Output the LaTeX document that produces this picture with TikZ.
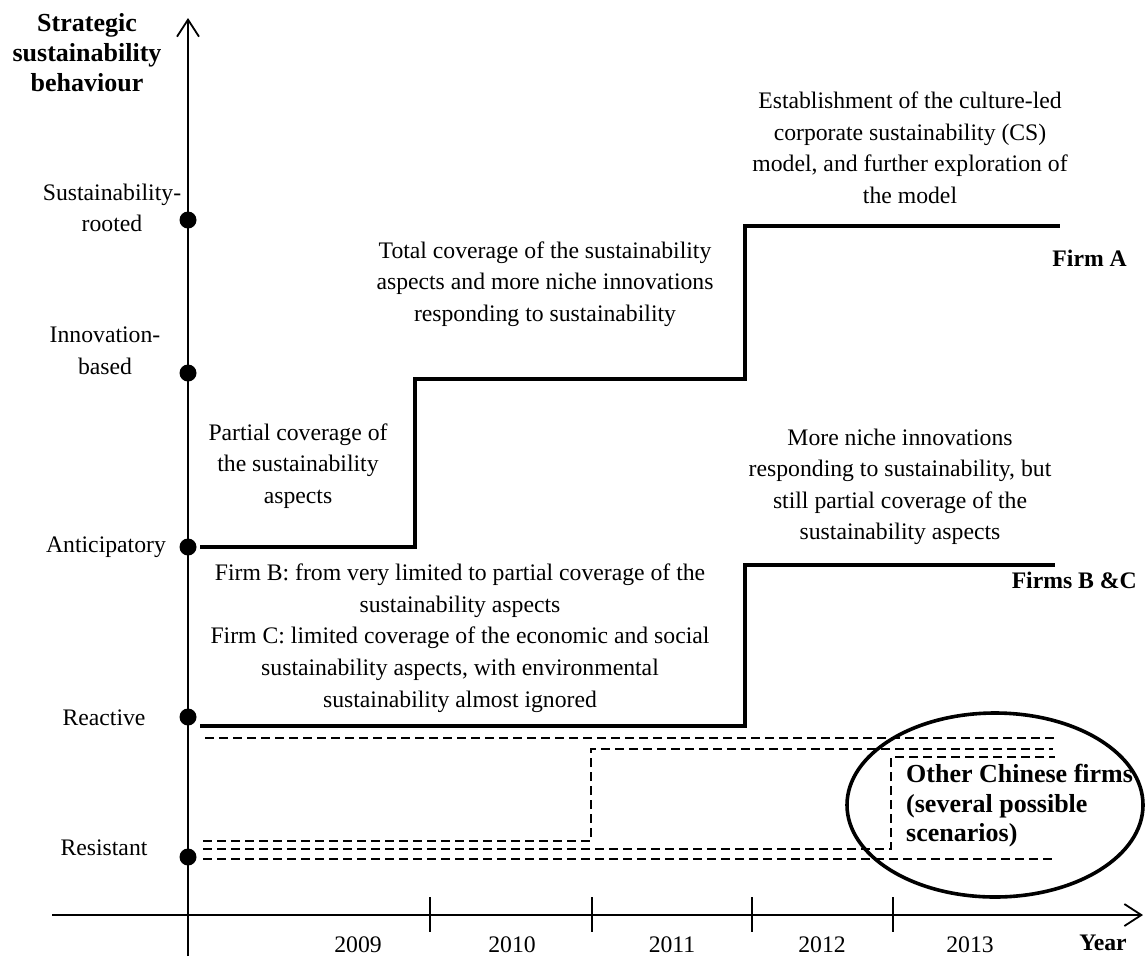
\documentclass[tikz,border=0pt]{standalone}
\usepackage{fontspec}
\setmainfont{Liberation Serif}
\usetikzlibrary{arrows.meta}
\begin{document}
\begin{tikzpicture}[x=1pt,y=-1pt,
  txt/.style={font=\fontsize{23.7}{31.5}\selectfont, align=center, inner sep=0pt},
  btxt/.style={font=\fontsize{23.7}{31}\selectfont\bfseries, align=center, inner sep=0pt},
  bigbtxt/.style={font=\fontsize{26}{30}\selectfont\bfseries, align=center, inner sep=0pt},
  axisline/.style={line width=1.8pt, -{Straight Barb[length=17pt,width=22pt]}},
  tickline/.style={line width=1.6pt},
  dot/.style={circle, fill=black, inner sep=0pt, minimum size=17pt},
  pathline/.style={line width=4pt},
  scen/.style={line width=2pt, dash pattern=on 9pt off 5pt},
  ring/.style={line width=3.6pt}
]
\useasboundingbox (0,0) rectangle (1147,956);

% axes
\coordinate (ybot) at (188,956);
\coordinate (ytop) at (188,18);
\coordinate (xleft) at (52,915);
\coordinate (xright) at (1143,915);
\draw[axisline] (ybot) -- (ytop);
\draw[axisline] (xleft) -- (xright);

% year ticks
\foreach \tx/\tn in {430/t1,592/t2,752/t3,893/t4}{
  \coordinate (\tn a) at (\tx,897);
  \coordinate (\tn b) at (\tx,932);
  \draw[tickline] (\tn a) -- (\tn b);
}

% year labels
\node[txt] (y2009) at (358,945) {2009};
\node[txt] (y2010) at (512,945) {2010};
\node[txt] (y2011) at (672,945) {2011};
\node[txt] (y2012) at (822,945) {2012};
\node[txt] (y2013) at (970,945) {2013};
\node[btxt] (yearlbl) at (1103,943) {Year};

% vertical axis title
\node[bigbtxt] (ytitle) at (87,53) {Strategic\\sustainability\\behaviour};

% behaviour levels
\node[dot] (rooted) at (188,220) {};
\node[dot] (innov) at (188,373) {};
\node[dot] (antic) at (188,547) {};
\node[dot] (react) at (188,717) {};
\node[dot] (resist) at (188,857) {};

\node[txt] (lrooted) at (112,208) {Sustainability-\\rooted};
\node[txt] (linnov) at (105,351) {Innovation-\\based};
\node[txt] (lantic) at (106,547) {Anticipatory};
\node[txt] (lreact) at (104,718) {Reactive};
\node[txt] (lresist) at (104,848) {Resistant};

% Firm A trajectory
\coordinate (a0) at (200,547);
\coordinate (a1) at (415,547);
\coordinate (a2) at (415,379);
\coordinate (a3) at (745,379);
\coordinate (a4) at (745,226);
\coordinate (a5) at (1060,226);
\draw[pathline] (a0) -- (a1) -- (a2) -- (a3) -- (a4) -- (a5);

% Firms B and C trajectory
\coordinate (b0) at (200,726);
\coordinate (b1) at (745,726);
\coordinate (b2) at (745,565);
\coordinate (b3) at (1055,565);
\draw[pathline] (b0) -- (b1) -- (b2) -- (b3);

% other Chinese firms: possible scenarios
\coordinate (s1a) at (205,738);
\coordinate (s1b) at (1057,738);
\draw[scen] (s1a) -- (s1b);
\coordinate (s2a) at (203,841);
\coordinate (s2b) at (591,841);
\coordinate (s2c) at (591,749);
\coordinate (s2d) at (1053,749);
\draw[scen] (s2a) -- (s2b) -- (s2c) -- (s2d);
\coordinate (s3a) at (203,849);
\coordinate (s3b) at (891,849);
\coordinate (s3c) at (891,757);
\coordinate (s3d) at (1055,757);
\draw[scen] (s3a) -- (s3b) -- (s3c) -- (s3d);
\coordinate (s4a) at (203,859);
\coordinate (s4b) at (1053,859);
\draw[scen] (s4a) -- (s4b);

\coordinate (ringc) at (995,805);
\draw[ring] (ringc) ellipse [x radius=148pt, y radius=92pt];

% annotations
\node[txt] (partial) at (298,466) {Partial coverage of\\the sustainability\\aspects};
\node[txt] (total) at (545,284) {Total coverage of the sustainability\\aspects and more niche innovations\\responding to sustainability};
\node[txt] (establish) at (910,148) {Establishment of the culture-led\\corporate sustainability (CS)\\model, and further exploration of\\the model};
\node[btxt, anchor=east] (firma) at (1127,258) {Firm A};
\node[txt] (niche) at (900,487) {More niche innovations\\responding to sustainability, but\\still partial coverage of the\\sustainability aspects};
\node[txt, font=\fontsize{23.7}{31.75}\selectfont] (firmbc) at (460,638) {Firm B: from very limited to partial coverage of the\\sustainability aspects\\Firm C: limited coverage of the economic and social\\sustainability aspects, with environmental\\sustainability almost ignored};
\node[btxt, anchor=east] (firmsbc) at (1137,580) {Firms B \&C};
\node[bigbtxt, align=left, anchor=west, font=\fontsize{26}{29.5}\selectfont\bfseries] (others) at (906,806) {Other Chinese firms\\(several possible\\scenarios)};
\end{tikzpicture}
\end{document}
